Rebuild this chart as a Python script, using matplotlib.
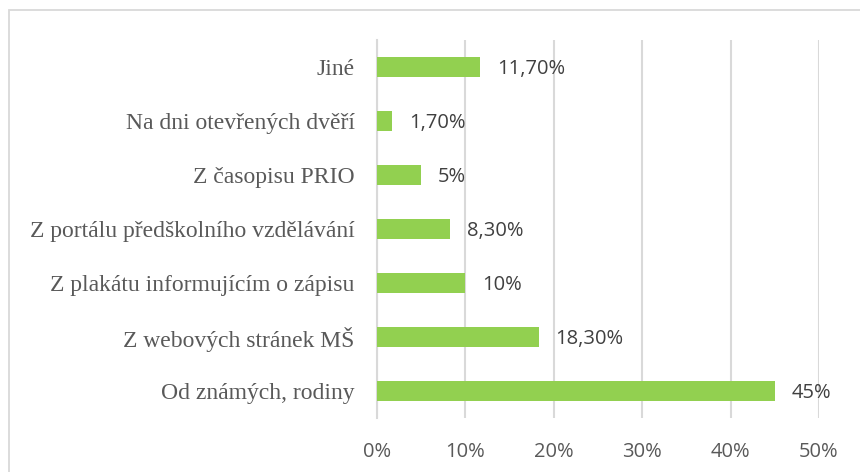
import matplotlib
matplotlib.use('Agg')
import matplotlib.pyplot as plt
from matplotlib.patches import Rectangle
from matplotlib.ticker import FuncFormatter

categories = ['Jiné', 'Na dni otevřených dvěří', 'Z časopisu PRIO',
              'Z portálu předškolního vzdělávání', 'Z plakátu informujícím o zápisu',
              'Z webových stránek MŠ', 'Od známých, rodiny']
values = [11.7, 1.7, 5, 8.3, 10, 18.3, 45]
value_labels = ['11,70%', '1,70%', '5%', '8,30%', '10%', '18,30%', '45%']
xticks = [0, 10, 20, 30, 40, 50]

fig = plt.figure(figsize=(8.6, 4.72), dpi=100)
ax = fig.add_axes([377/860, 1-418/472, (819-377)/860, (418-40)/472])

# ramecek grafu
fig.patches.append(Rectangle((9/860, -0.1), 1.2, 1-10/472+0.1, transform=fig.transFigure,
                             fill=False, edgecolor='#D9D9D9', lw=1.3))

ypos = list(range(len(categories)))
ax.barh(ypos, values, height=0.36, color='#92D050', zorder=3)
for y, v, lab in zip(ypos, values, value_labels):
    ax.annotate(lab, (v, y), xytext=(12, -1.5), textcoords='offset points',
                va='center', ha='left', fontsize=14.5, color='#404040', family='Open Sans')

ax.set_xlim(0, 50)
ax.set_ylim(len(categories)-0.5, -0.5)
ax.set_xticks(xticks)
ax.xaxis.set_major_formatter(FuncFormatter(lambda x, p: f'{x:.0f}%'))
ax.set_yticks(ypos)
ax.set_yticklabels(categories, family='Liberation Serif', fontsize=17, color='#595959')
for t in ax.get_xticklabels():
    t.set_family('Open Sans'); t.set_fontsize(14.5); t.set_color('#595959')
ax.tick_params(axis='x', length=0, pad=17)
ax.tick_params(axis='y', length=0, pad=16)
ax.grid(axis='x', color='#D9D9D9', lw=1.5, zorder=0)
for s in ['top', 'right', 'bottom']:
    ax.spines[s].set_visible(False)
ax.spines['left'].set_color('#D9D9D9')
ax.spines['left'].set_linewidth(1.5)

fig.savefig('out.png', dpi=100)
